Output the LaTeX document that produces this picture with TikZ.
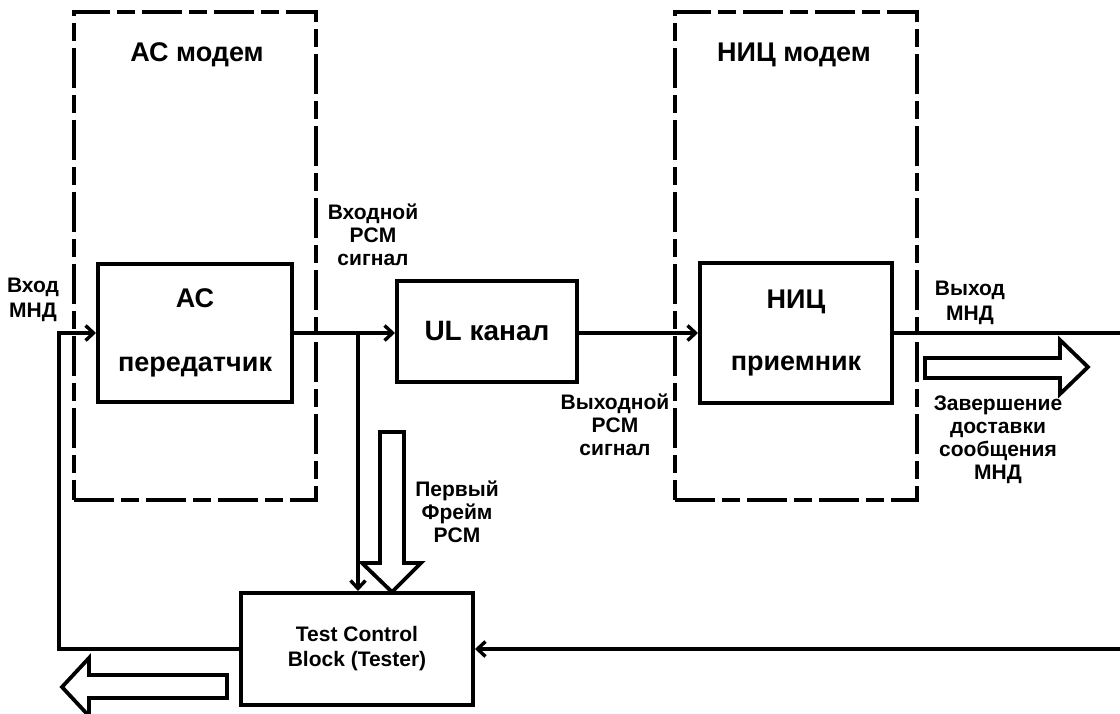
\documentclass[tikz,border=0pt]{standalone}
\usepackage{fontspec}
\setmainfont{Liberation Sans}
\usetikzlibrary{arrows.meta,positioning}

\tikzset{
  dashframe/.style={draw,line width=3.2pt,dash pattern=on 40pt off 7pt on 18pt off 7pt},
  blockbox/.style={draw,line width=4pt,fill=white,align=center,inner sep=0pt,
    font=\fontsize{27}{32}\selectfont\bfseries},
  titletext/.style={font=\fontsize{27}{32}\selectfont\bfseries},
  lbl/.style={align=center,inner sep=0pt,font=\fontsize{21}{23}\selectfont\bfseries},
  conn/.style={line width=3.4pt,-{Straight Barb[length=8pt,width=15pt,line width=3.4pt]}},
  plainline/.style={line width=3.4pt},
  hollow/.style={draw,line width=3.8pt,fill=white,line join=miter},
}

\begin{document}
\begin{tikzpicture}[x=1pt,y=-1pt]
  \useasboundingbox (0,0) rectangle (1120,713);

  % modem frames
  \node[dashframe,minimum width=242pt,minimum height=488pt] (acmodem) at (195,256) {};
  \node[dashframe,minimum width=242pt,minimum height=488pt] (nicmodem) at (796,256) {};
  \node[titletext] (actitle) at (197,55) {АС модем};
  \node[titletext] (nictitle) at (794,55) {НИЦ модем};

  % blocks
  \node[blockbox,minimum width=194pt,minimum height=138pt] (actx) at (195,333) {АС\\[32pt]передатчик};
  \node[blockbox,minimum width=180pt,minimum height=101pt,font=\fontsize{28}{32}\selectfont\bfseries] (ulch) at (487,331) {UL канал};
  \node[blockbox,minimum width=192pt,minimum height=140pt] (nicrx) at (796,333) {НИЦ\\[30pt]приемник};
  \node[blockbox,minimum width=232pt,minimum height=112pt,font=\fontsize{21}{25}\selectfont\bfseries] (tcb) at (357,649) {Test Control\\Block (Tester)};

  % labels
  \node[lbl] (inmnd) at (33,300) {Вход\\[2pt]МНД};
  \node[lbl] (inpcm) at (373,235) {Входной\\PCM\\сигнал};
  \node[lbl] (outpcm) at (615,425) {Выходной\\PCM\\сигнал};
  \node[lbl] (outmnd) at (970,303) {Выход\\[2pt]МНД};
  \node[lbl] (done) at (998,440) {Завершение\\доставки\\сообщения\\МНД};
  \node[lbl] (firstfr) at (457,512) {Первый\\Фрейм\\PCM};

  % connectors
  \coordinate (fb) at (59,333);
  \coordinate (jn) at (358,333);
  \coordinate (outR) at (1121,333);
  \coordinate (inR) at (1121,649);
  \draw[conn] (tcb.west) -| (fb) -- (actx.west);
  \draw[conn] (actx.east) -- (actx.east -| ulch.west);
  \draw[conn] (jn) -- (jn |- tcb.north);
  \draw[conn] (ulch.east |- actx.east) -- (nicrx.west);
  \draw[plainline] (nicrx.east) -- (outR);
  \draw[conn] (inR) -- (tcb.east);

  % hollow arrows
  \draw[hollow] (925,358) -- (1060,358) -- (1060,340) -- (1088,367) -- (1060,394) -- (1060,378) -- (925,378) -- cycle;
  \draw[hollow] (380,432) -- (404,432) -- (404,563) -- (421,563) -- (392,592) -- (362,563) -- (380,563) -- cycle;
  \draw[hollow] (227,675) -- (89,675) -- (89,658) -- (62,687) -- (89,716) -- (89,698) -- (227,698) -- cycle;
\end{tikzpicture}
\end{document}
